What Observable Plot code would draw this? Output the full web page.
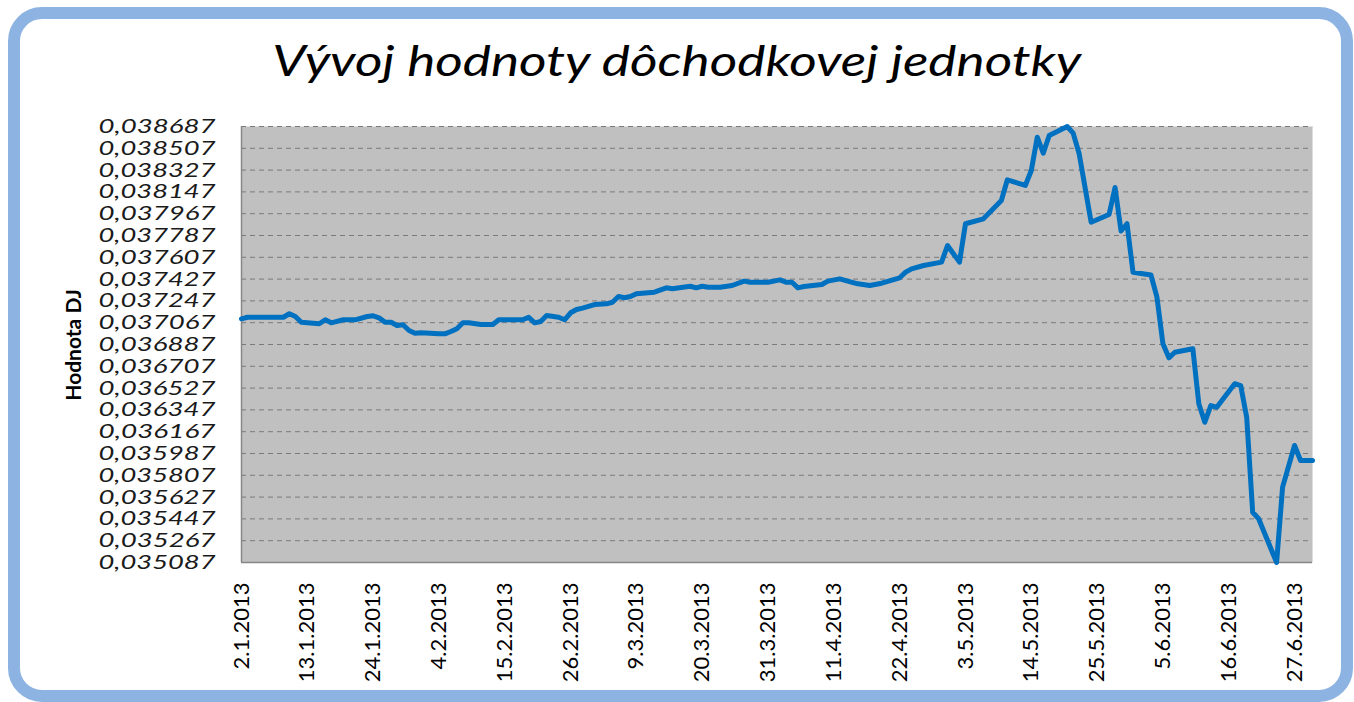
<!DOCTYPE html>
<html>
<head>
<meta charset="utf-8">
<script src="https://cdn.jsdelivr.net/npm/d3@7"></script>
<script src="https://cdn.jsdelivr.net/npm/@observablehq/plot@0.6"></script>
<style>
  html, body { margin: 0; padding: 0; background: #fff; }
  body { width: 1354px; height: 702px; position: relative; overflow: hidden; font-family: Lato, "Open Sans", sans-serif; }
  #frame { position: absolute; left: 8px; top: 7px; width: 1345px; height: 695px; box-sizing: border-box;
           border: 12px solid #8db3e2; border-radius: 34px; pointer-events: none; z-index: 3; }
  #title { position: absolute; left: 0; width: 1354px; top: 35px; text-align: center; line-height: normal; }
  #title span { display: inline-block; font-style: italic; font-weight: 400; font-size: 42px; color: #000;
                white-space: nowrap; transform-origin: 50% 50%; }
  #ylabel { position: absolute; left: 72px; top: 345px; transform: translate(-50%, -50%) rotate(-90deg);
            font-weight: bold; font-size: 21px; color: #000; white-space: nowrap; }
  #chart { position: absolute; left: 0; top: 100px; }
  #chart svg [aria-label^="x-axis"] text { font-size: 22px; fill: #000; }
  #chart svg [aria-label^="y-axis"] text { font-size: 20px; font-style: italic; fill: #1a1a1a; }
</style>
</head>
<body>
<div id="frame"></div>
<div id="title"><span>Vývoj hodnoty dôchodkovej jednotky</span></div>
<div id="ylabel">Hodnota DJ</div>
<div id="chart"></div>
<script>
// ---- data ----
const dates = [
  "2013-01-02","2013-01-03","2013-01-09","2013-01-10","2013-01-11","2013-01-12","2013-01-15","2013-01-16",
  "2013-01-17","2013-01-19","2013-01-21","2013-01-23","2013-01-24","2013-01-25","2013-01-26","2013-01-27",
  "2013-01-28","2013-01-29","2013-01-30","2013-01-31","2013-02-01","2013-02-04","2013-02-05","2013-02-06",
  "2013-02-07","2013-02-08","2013-02-09","2013-02-11","2013-02-13","2013-02-14","2013-02-15","2013-02-18",
  "2013-02-19","2013-02-20","2013-02-21","2013-02-22","2013-02-24","2013-02-25","2013-02-26","2013-02-27",
  "2013-02-28","2013-03-02","2013-03-04","2013-03-05","2013-03-06","2013-03-07","2013-03-08","2013-03-09",
  "2013-03-11","2013-03-12","2013-03-14","2013-03-15","2013-03-18","2013-03-19","2013-03-20","2013-03-21",
  "2013-03-23","2013-03-25","2013-03-27","2013-03-28","2013-03-31","2013-04-02","2013-04-03","2013-04-04",
  "2013-04-05","2013-04-06","2013-04-09","2013-04-10","2013-04-12","2013-04-13","2013-04-15","2013-04-17",
  "2013-04-19","2013-04-22","2013-04-23","2013-04-24","2013-04-26","2013-04-29","2013-04-30","2013-05-02",
  "2013-05-03","2013-05-06","2013-05-09","2013-05-10","2013-05-13","2013-05-14","2013-05-15","2013-05-16",
  "2013-05-17","2013-05-20","2013-05-21","2013-05-22","2013-05-24","2013-05-27","2013-05-28","2013-05-29",
  "2013-05-30","2013-05-31","2013-06-03","2013-06-04","2013-06-05","2013-06-06","2013-06-07","2013-06-10",
  "2013-06-11","2013-06-12","2013-06-13","2013-06-14","2013-06-17","2013-06-18","2013-06-19","2013-06-20",
  "2013-06-21","2013-06-24","2013-06-25","2013-06-27","2013-06-28","2013-06-30"
];
const values = [
  0.037099,0.037112,0.037112,0.037141,0.037118,0.037071,0.037058,0.037091,
  0.037066,0.037091,0.037091,0.037118,0.037124,0.037107,0.037071,0.037071,
  0.037044,0.037050,0.037003,0.036980,0.036984,0.036975,0.036975,0.036994,
  0.037017,0.037066,0.037066,0.037052,0.037052,0.037091,0.037091,0.037091,
  0.037112,0.037066,0.037077,0.037126,0.037112,0.037091,0.037149,0.037176,
  0.037187,0.037217,0.037223,0.037236,0.037283,0.037273,0.037283,0.037306,
  0.037314,0.037319,0.037355,0.037347,0.037368,0.037355,0.037368,0.037360,
  0.037360,0.037374,0.037410,0.037401,0.037401,0.037421,0.037401,0.037401,
  0.037355,0.037366,0.037382,0.037410,0.037429,0.037415,0.037388,0.037374,
  0.037393,0.037438,0.037484,0.037512,0.037539,0.037567,0.037704,0.037567,
  0.037884,0.037925,0.038076,0.038247,0.038200,0.038324,0.038599,0.038467,
  0.038613,0.038687,0.038632,0.038462,0.037897,0.037960,0.038183,0.037824,
  0.037884,0.037484,0.037461,0.037278,0.036893,0.036777,0.036823,0.036852,
  0.036397,0.036245,0.036383,0.036369,0.036563,0.036548,0.036287,0.035502,
  0.035448,0.035087,0.035709,0.036053,0.035929,0.035929
];
const xDomain = ["2013-01-02", "2013-06-30"];
const xTickDates = [
  "2013-01-02","2013-01-13","2013-01-24","2013-02-04","2013-02-15","2013-02-26","2013-03-09","2013-03-20",
  "2013-03-31","2013-04-11","2013-04-22","2013-05-03","2013-05-14","2013-05-25","2013-06-05","2013-06-16","2013-06-27"
];
const yTicks = [
  0.035087,0.035267,0.035447,0.035627,0.035807,0.035987,0.036167,0.036347,0.036527,0.036707,0.036887,
  0.037067,0.037247,0.037427,0.037607,0.037787,0.037967,0.038147,0.038327,0.038507,0.038687
];

// ---- build ----
const parse = d3.utcParse("%Y-%m-%d");
const table = dates.map((d, i) => ({date: parse(d), value: values[i]}));
const x0 = parse(xDomain[0]), x1 = parse(xDomain[1]);
const yMin = yTicks[0], yMax = yTicks[yTicks.length - 1];
const fmtDate = d => `${d.getUTCDate()}.${d.getUTCMonth() + 1}.${d.getUTCFullYear()}`;
const fmtVal = v => v.toFixed(6).replace(".", ",");

const chart = Plot.plot({
  width: 1354,
  height: 600,
  marginLeft: 241,
  marginRight: 42,
  marginTop: 26,
  marginBottom: 138,
  style: {background: "transparent", fontFamily: "Lato, 'Open Sans', sans-serif", overflow: "visible"},
  x: {
    type: "utc",
    domain: [x0, x1],
    ticks: xTickDates.map(parse),
    tickFormat: fmtDate,
    tickRotate: -90,
    tickSize: 0,
    tickPadding: 20,
    label: null
  },
  y: {
    domain: [yMin, yMax],
    ticks: yTicks,
    tickFormat: fmtVal,
    tickSize: 0,
    tickPadding: 26,
    label: null
  },
  marks: [
    Plot.frame({fill: "#c0c0c0", stroke: "none"}),
    Plot.ruleY(yTicks.filter(v => v > yMin), {stroke: "#7a7a7a", strokeWidth: 1, strokeDasharray: "5,4"}),
    Plot.ruleX([x1], {stroke: "#dcdcdc", strokeWidth: 1}),
    Plot.ruleX([x0], {stroke: "#868686", strokeWidth: 1.5}),
    Plot.ruleY([yMin], {stroke: "#868686", strokeWidth: 1.5}),
    Plot.line(table, {x: "date", y: "value", stroke: "#0070c0", strokeWidth: 5,
                      strokeLinejoin: "round", strokeLinecap: "round"})
  ]
});
document.getElementById("chart").appendChild(chart);

// stretch the y tick labels horizontally like the reference
d3.select(chart).selectAll('[aria-label^="y-axis"] text')
  .attr("textLength", 117)
  .attr("lengthAdjust", "spacingAndGlyphs");

// widen the title to the reference's span
const span = document.querySelector("#title span");
const w = span.getBoundingClientRect().width;
if (w > 0) span.style.transform = `scaleX(${(809 / w).toFixed(3)})`;
</script>
</body>
</html>
